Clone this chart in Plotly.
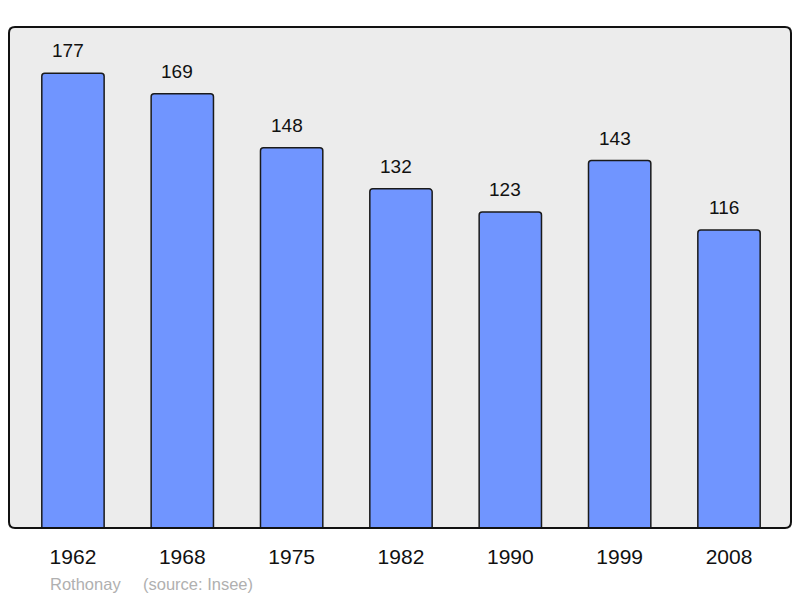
import plotly.graph_objects as go

years = ["1962", "1968", "1975", "1982", "1990", "1999", "2008"]
population = [177, 169, 148, 132, 123, 143, 116]
commune = "Rothonay"
source = "(source: Insee)"

xs = list(range(len(years)))
FONT = "Liberation Sans, Arial, sans-serif"

fig = go.Figure()
fig.add_trace(go.Bar(
    x=xs, y=population, width=0.57,
    marker=dict(color="#7095ff", line=dict(color="#1a1a1a", width=1.5)),
    hoverinfo="skip",
))

for x, v in zip(xs, population):
    fig.add_annotation(x=x, y=v, text=str(v), showarrow=False, yanchor="bottom",
                       yshift=10, xshift=-5, font=dict(size=19, color="#111", family=FONT))

# rounded border of plot area (paper coords)
W, H = 782.0, 501.0
r = 6.0
rx, ry = r / W, r / H
path = (f"M {rx},0 L {1-rx},0 Q 1,0 1,{ry} L 1,{1-ry} Q 1,1 {1-rx},1 "
        f"L {rx},1 Q 0,1 0,{1-ry} L 0,{ry} Q 0,0 {rx},0 Z")
fig.add_shape(type="path", xref="paper", yref="paper", path=path,
              line=dict(color="#111", width=2), layer="above")

fig.add_annotation(xref="paper", yref="paper", x=(48-9)/W, y=-(584-528)/H,
                   text=commune, showarrow=False, xanchor="left", yanchor="middle",
                   font=dict(size=16.5, color="#b0b0b0", family=FONT))
fig.add_annotation(xref="paper", yref="paper", x=(141-9)/W, y=-(584-528)/H,
                   text=source, showarrow=False, xanchor="left", yanchor="middle",
                   font=dict(size=16.5, color="#b0b0b0", family=FONT))

fig.update_layout(
    width=800, height=598,
    margin=dict(l=9, r=9, t=27, b=70),
    paper_bgcolor="white", plot_bgcolor="#ececec",
    barcornerradius=3,
    showlegend=False,
    xaxis=dict(range=[-0.585, 6.567], tickmode="array", tickvals=xs, ticktext=years,
               showgrid=False, zeroline=False, showline=False, ticks="",
               ticklabelstandoff=14,
               tickfont=dict(size=21, color="#111", family=FONT),
               fixedrange=True),
    yaxis=dict(range=[0, 195], showgrid=False, zeroline=False, showticklabels=False,
               showline=False, ticks="", fixedrange=True),
)

fig.write_html("out.html", config={"displayModeBar": False},
               post_script="document.body.style.margin='0';document.body.style.overflow='hidden';")
